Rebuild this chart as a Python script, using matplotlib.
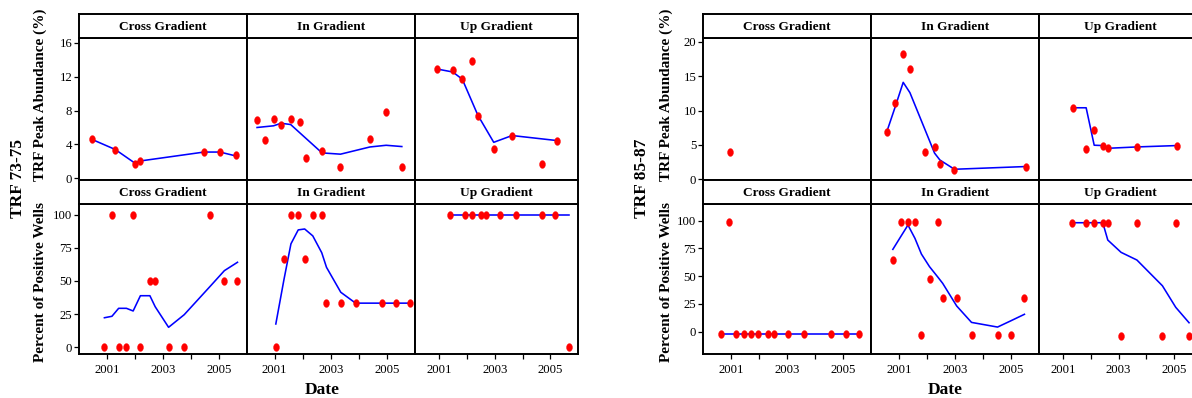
import matplotlib
matplotlib.use('Agg')
import matplotlib.pyplot as plt
import numpy as np
from matplotlib.path import Path

plt.rcParams['font.family'] = ['Liberation Serif', 'DejaVu Serif']

# ---- TRF 73-75: peak abundance (%) ----
t73_ab_cross_x = [2000.45, 2001.29, 2001.99, 2002.19, 2004.47, 2005.04, 2005.60]
t73_ab_cross_y = [4.6, 3.4, 1.65, 2.1, 3.15, 3.15, 2.7]
t73_ab_cross_fit_x = t73_ab_cross_x
t73_ab_cross_fit_y = [4.6, 3.4, 1.8, 2.05, 3.1, 3.1, 2.65]

t73_ab_in_x = [2000.37, 2000.67, 2000.96, 2001.23, 2001.57, 2001.92,
               2002.13, 2002.69, 2003.35, 2004.40, 2004.98, 2005.54]
t73_ab_in_y = [6.9, 4.5, 7.0, 6.3, 7.0, 6.7, 2.4, 3.25, 1.35, 4.6, 7.8, 1.35]
t73_ab_in_fit_x = [2000.37, 2000.96, 2001.23, 2001.57, 2001.92, 2002.69,
                   2003.35, 2004.40, 2004.98, 2005.54]
t73_ab_in_fit_y = [6.0, 6.2, 6.5, 6.35, 5.3, 3.0, 2.85, 3.7, 3.9, 3.75]

t73_ab_up_x = [2000.93, 2001.49, 2001.83, 2002.19, 2002.39, 2002.96, 2003.62, 2004.69, 2005.25]
t73_ab_up_y = [12.9, 12.75, 11.7, 13.8, 7.35, 3.5, 5.0, 1.7, 4.35]
t73_ab_up_fit_x = [2000.93, 2001.49, 2001.83, 2002.39, 2002.96, 2003.62, 2005.25]
t73_ab_up_fit_y = [12.9, 12.55, 11.7, 7.45, 4.25, 5.05, 4.45]

# ---- TRF 73-75: percent of positive wells ----
t73_pw_cross_x = [2000.90, 2001.17, 2001.41, 2001.69, 2001.93, 2002.19, 2002.53,
                  2002.72, 2003.20, 2003.76, 2004.70, 2005.20, 2005.67]
t73_pw_cross_y = [0, 100, 0, 0, 100, 0, 50, 50, 0, 0, 100, 50, 50]
t73_pw_cross_fit_x = t73_pw_cross_x
t73_pw_cross_fit_y = [22.3, 23.4, 29.4, 29.4, 27.4, 38.9, 38.9, 30.6, 15.1, 24.6, 46.2, 57.8, 64.1]

t73_pw_in_x = [2001.04, 2001.33, 2001.58, 2001.84, 2002.07, 2002.36, 2002.68,
               2002.85, 2003.36, 2003.89, 2004.83, 2005.33, 2005.82]
t73_pw_in_y = [0, 66.7, 100, 100, 66.7, 100, 100, 33.3, 33.3, 33.3, 33.3, 33.3, 33.3]
t73_pw_in_fit_x = t73_pw_in_x
t73_pw_in_fit_y = [17.6, 51, 78, 88.5, 89.2, 84, 71.3, 60.3, 41.5, 33.3, 33.3, 33.3, 33.3]

t73_pw_up_x = [2001.40, 2001.91, 2002.19, 2002.50, 2002.69, 2003.19, 2003.75, 2004.70, 2005.18, 2005.67]
t73_pw_up_y = [100, 100, 100, 100, 100, 100, 100, 100, 100, 0]
t73_pw_up_fit_x = t73_pw_up_x
t73_pw_up_fit_y = [100, 100, 100, 100, 100, 100, 100, 100, 100, 100]

# ---- TRF 85-87: peak abundance (%) ----
t85_ab_cross_x = [2000.95]
t85_ab_cross_y = [3.9]

t85_ab_in_x = [2000.58, 2000.87, 2001.15, 2001.39, 2001.94, 2002.27, 2002.46, 2002.98, 2005.55]
t85_ab_in_y = [6.85, 11.15, 18.3, 16.0, 4.0, 4.65, 2.2, 1.4, 1.85]
t85_ab_in_fit_x = t85_ab_in_x
t85_ab_in_fit_y = [7.1, 10.6, 14.1, 12.6, 7.1, 3.8, 2.8, 1.45, 1.85]

t85_ab_up_x = [2001.34, 2001.83, 2002.12, 2002.43, 2002.60, 2003.66, 2005.10]
t85_ab_up_y = [10.4, 4.35, 7.2, 4.9, 4.55, 4.75, 4.9]
t85_ab_up_fit_x = t85_ab_up_x
t85_ab_up_fit_y = [10.4, 10.4, 4.95, 4.9, 4.5, 4.7, 4.9]

# ---- TRF 85-87: percent of positive wells ----
t85_pw_cross_x = [2000.64, 2000.91, 2001.17, 2001.45, 2001.70, 2001.97, 2002.31,
                  2002.52, 2003.02, 2003.60, 2004.57, 2005.09, 2005.58]
t85_pw_cross_y = [-2.5, 99, -2.5, -2.5, -2.5, -2.5, -2.5, -2.5, -2.5, -2.5, -2.5, -2.5, -2.5]
t85_pw_cross_fit_x = [2000.64, 2001.17, 2001.45, 2001.70, 2001.97, 2002.31,
                      2002.52, 2003.02, 2003.60, 2004.57, 2005.09, 2005.58]
t85_pw_cross_fit_y = [-2.5] * 12

t85_pw_in_x = [2000.78, 2001.07, 2001.32, 2001.57, 2001.80, 2002.09, 2002.40,
               2002.56, 2003.06, 2003.59, 2004.52, 2005.00, 2005.48]
t85_pw_in_y = [64.5, 98.8, 98.8, 98.8, -3.0, 47.8, 98.8, 30.6, 30.6, -3.0, -3.0, -3.0, 30.6]
t85_pw_in_fit_x = t85_pw_in_x
t85_pw_in_fit_y = [74.2, 86, 96.1, 84.1, 70, 58.6, 48.8, 43.6, 23.2, 8.4, 4.2, 9.9, 15.7]

t85_pw_up_x = [2001.32, 2001.83, 2002.10, 2002.43, 2002.61, 2003.09, 2003.66, 2004.58, 2005.06, 2005.54]
t85_pw_up_y = [98.2, 98.2, 98.2, 98.2, 98.2, -4, 98.2, -4, 98.2, -4]
t85_pw_up_fit_x = t85_pw_up_x
t85_pw_up_fit_y = [98.2, 98.2, 98.2, 98.2, 82.6, 71.5, 64.6, 41.4, 22, 8.1]

gradients = ['Cross Gradient', 'In Gradient', 'Up Gradient']
year_ticks = [2001, 2002, 2003, 2004, 2005]
year_labels = ['2001', '', '2003', '', '2005']

FIG_W, FIG_H = 1192, 398


def box(x0, y0, x1, y1):
    """Pixel box (top-left origin) -> figure fraction rect."""
    return [x0 / FIG_W, 1 - y1 / FIG_H, (x1 - x0) / FIG_W, (y1 - y0) / FIG_H]


# slightly tall ellipse used for the data points
theta = np.linspace(0, 2 * np.pi, 41)
dot = Path(np.column_stack([0.75 * np.cos(theta), np.sin(theta)]))

ROWS = [(14, 37.7, 179.5), (179.5, 204.3, 353.7)]


def draw_block(fig, cols, xlims, panels, ylims, yticks, title, label_x, date_x):
    for r, row in enumerate(panels):
        s_top, p_top, p_bot = ROWS[r]
        for c, (px, py, fx, fy) in enumerate(row):
            x0, x1 = cols[c], cols[c + 1]
            ax = fig.add_axes(box(x0, p_top, x1, p_bot))
            if fx is not None:
                ax.plot(fx, fy, color='#0000ff', lw=1.15, zorder=2)
            ax.plot(px, py, ls='none', marker=dot, ms=5.6, color='#ff0000',
                    mec='#ff0000', mew=0.3, zorder=3, clip_on=False)
            ax.set_xlim(*xlims[c])
            ax.set_ylim(*ylims[r])
            for sp in ax.spines.values():
                sp.set_linewidth(1.4)
            ax.tick_params(direction='out', length=3.5, width=0.9, pad=1.5,
                           labelsize=9.2, color='black')
            ax.set_yticks(yticks[r])
            if c == 0:
                ax.set_yticklabels([str(t) for t in yticks[r]])
            else:
                ax.tick_params(axis='y', left=False, labelleft=False)
            ax.set_xticks(year_ticks)
            if r == 1:
                ax.set_xticklabels(year_labels)
                ax.tick_params(axis='x', pad=4)
            else:
                ax.tick_params(axis='x', bottom=False, labelbottom=False)

            st = fig.add_axes(box(x0, s_top, x1, p_top))
            st.set_xticks([])
            st.set_yticks([])
            for sp in st.spines.values():
                sp.set_linewidth(1.4)
            st.text(0.5, 0.45, gradients[c], ha='center', va='center',
                    fontsize=9.6, fontweight='bold', transform=st.transAxes)

    fig.text(label_x[0] / FIG_W, 1 - 178 / FIG_H, title, rotation=90,
             ha='center', va='center', fontsize=12.5, fontweight='bold')
    fig.text(label_x[1] / FIG_W, 1 - 95 / FIG_H, 'TRF Peak Abundance (%)', rotation=90,
             ha='center', va='center', fontsize=11, fontweight='bold')
    fig.text(label_x[1] / FIG_W, 1 - 282 / FIG_H, 'Percent of Positive Wells', rotation=90,
             ha='center', va='center', fontsize=11, fontweight='bold')
    fig.text(date_x / FIG_W, 1 - 390.5 / FIG_H, 'Date',
             ha='center', va='center', fontsize=12.5, fontweight='bold')


fig = plt.figure(figsize=(FIG_W / 100, FIG_H / 100), dpi=100)

left_panels = [
    [(t73_ab_cross_x, t73_ab_cross_y, t73_ab_cross_fit_x, t73_ab_cross_fit_y),
     (t73_ab_in_x, t73_ab_in_y, t73_ab_in_fit_x, t73_ab_in_fit_y),
     (t73_ab_up_x, t73_ab_up_y, t73_ab_up_fit_x, t73_ab_up_fit_y)],
    [(t73_pw_cross_x, t73_pw_cross_y, t73_pw_cross_fit_x, t73_pw_cross_fit_y),
     (t73_pw_in_x, t73_pw_in_y, t73_pw_in_fit_x, t73_pw_in_fit_y),
     (t73_pw_up_x, t73_pw_up_y, t73_pw_up_fit_x, t73_pw_up_fit_y)],
]
draw_block(fig,
           cols=[79.3, 246.7, 414.7, 578.3],
           xlims=[(2000, 2006), (2000, 2006), (2000.12, 2006)],
           panels=left_panels,
           ylims=[(-0.14, 16.6), (-4.8, 107.8)],
           yticks=[[0, 4, 8, 12, 16], [0, 25, 50, 75, 100]],
           title='TRF 73-75', label_x=(18.5, 40.5), date_x=322)

right_panels = [
    [(t85_ab_cross_x, t85_ab_cross_y, None, None),
     (t85_ab_in_x, t85_ab_in_y, t85_ab_in_fit_x, t85_ab_in_fit_y),
     (t85_ab_up_x, t85_ab_up_y, t85_ab_up_fit_x, t85_ab_up_fit_y)],
    [(t85_pw_cross_x, t85_pw_cross_y, t85_pw_cross_fit_x, t85_pw_cross_fit_y),
     (t85_pw_in_x, t85_pw_in_y, t85_pw_in_fit_x, t85_pw_in_fit_y),
     (t85_pw_up_x, t85_pw_up_y, t85_pw_up_fit_x, t85_pw_up_fit_y)],
]
draw_block(fig,
           cols=[703.3, 871, 1039, 1201.8],
           xlims=[(2000, 2006), (2000, 2006), (2000.13, 2006)],
           panels=right_panels,
           ylims=[(-0.04, 20.6), (-19.8, 114.8)],
           yticks=[[0, 5, 10, 15, 20], [0, 25, 50, 75, 100]],
           title='TRF 85-87', label_x=(642.5, 666.5), date_x=945.7)

fig.savefig('out.png', dpi=100)
